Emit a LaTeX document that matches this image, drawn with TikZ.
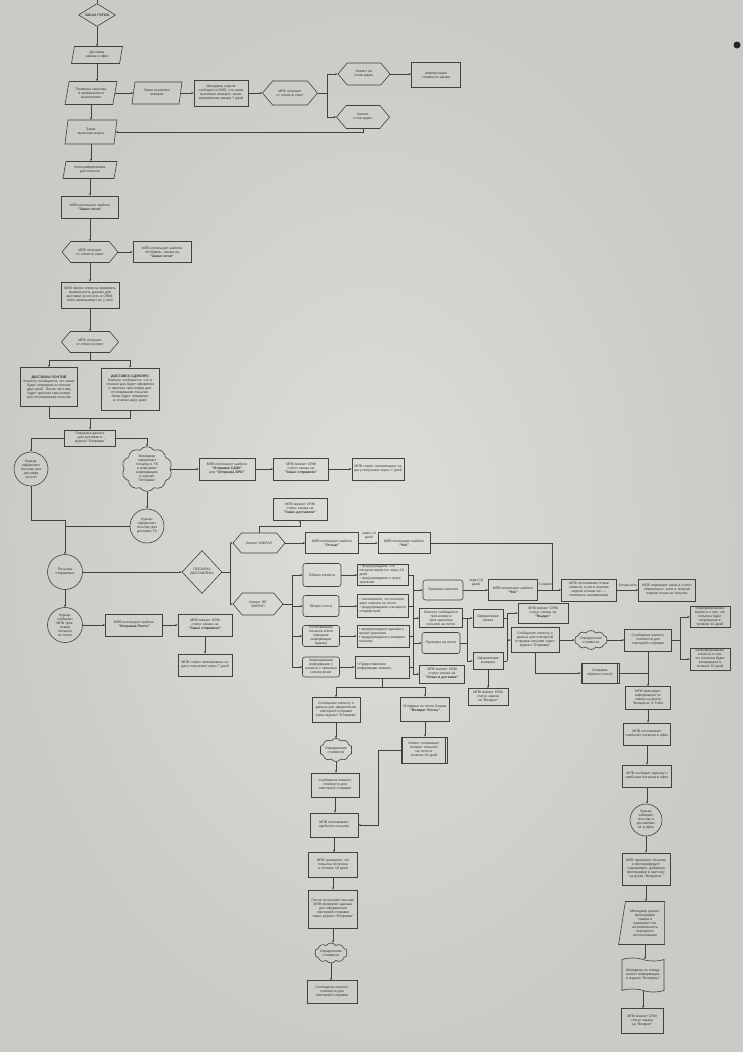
\documentclass[tikz,border=0pt]{standalone}
\usepackage{fontspec}
\setmainfont{Liberation Sans}
\usetikzlibrary{shapes.geometric,shapes.symbols,shapes.misc,arrows.meta}
\definecolor{bgc}{RGB}{213,213,209}
\definecolor{bgin}{RGB}{221,221,218}
\definecolor{bgout}{RGB}{202,202,198}
\definecolor{lc}{RGB}{65,65,65}
\definecolor{tc}{RGB}{50,50,50}
\newcommand\myfs{\fontsize{3.45}{4.0}\selectfont}
\newcommand\ppl[1]{\draw[ln] ([xshift=2pt]#1.north west) -- ([xshift=2pt]#1.south west); \draw[ln] ([xshift=-2pt]#1.north east) -- ([xshift=-2pt]#1.south east);}
\tikzset{
 nb/.style={draw=lc, line width=0.6pt, text=tc, font=\myfs, align=center, inner sep=0.5pt},
 sz/.code 2 args={\pgfmathsetmacro\mytw{#1-4}\edef\mytmp{\noexpand\tikzset{minimum width=#1pt,minimum height=#2pt,text width=\mytw pt}}\mytmp},
 psz/.code 2 args={\pgfmathsetmacro\mytw{#1-0.73*#2-3}\edef\mytmp{\noexpand\tikzset{minimum width=#1pt,minimum height=#2pt,text width=\mytw pt}}\mytmp},
 hsz/.code 2 args={\pgfmathsetmacro\mytw{#1-0.84*#2-3}\edef\mytmp{\noexpand\tikzset{minimum width=#1pt,minimum height=#2pt,text width=\mytw pt}}\mytmp},
 csz/.code={\pgfmathsetmacro\mytw{#1*0.7}\edef\mytmp{\noexpand\tikzset{minimum size=#1pt,text width=\mytw pt}}\mytmp},
 box/.style={nb, rectangle},
 rbox/.style={nb, rectangle, rounded corners=2.5pt},
 para/.style={nb, trapezium, trapezium left angle=70, trapezium right angle=110, trapezium stretches body},
 tz/.style={nb, trapezium, trapezium left angle=76, trapezium right angle=90, trapezium stretches body},
 hexa/.style={nb, signal, signal to=west and east, signal pointer angle=100},
 dia/.style={nb, diamond, aspect=1.6},
 circ/.style={nb, circle},
 cld/.style={nb, cloud, cloud puffs=10, cloud puff arc=110, cloud ignores aspect},
 tp/.style={nb, tape, tape bend top=out and in, tape bend bottom=out and in, tape bend height=3pt},
 lab/.style={text=tc, font=\myfs, align=center, inner sep=0pt},
 arr/.style={draw=lc, line width=0.6pt, -{Stealth[length=2.4pt,width=2pt]}},
 ln/.style={draw=lc, line width=0.6pt},
}
\newcommand\vto[2]{\draw[arr] (#1.south) -- (#1.south |- #2.north);}
\newcommand\hto[2]{\draw[arr] (#1.east) -- (#1.east -| #2.west);}
\begin{document}
\begin{tikzpicture}[x=1pt,y=-1pt]
\shade[inner color=bgin, outer color=bgout] (0,0) rectangle (743,1052);
\useasboundingbox (0,0) rectangle (743,1052);
\fill[black!85] (737,45) circle (3.5);

% ---------- top column ----------
\node[dia, minimum width=37pt, minimum height=23pt, text width=26pt] (n1) at (97,15) {\textbf{ЗАКАЗ ГОТОВ}};
\node[para, psz={51}{17}] (n2) at (97,55) {Доставка заказа в офис};
\node[para, psz={52}{23}] (n3) at (91,93) {Проверка качества и правильности выполнения};
\node[para, psz={50}{22}] (n4) at (157,93) {Заказ выполнен неверно};
\node[box, sz={54}{26}] (n5) at (221,93) {Менеджер отдела сообщает в ООО, что заказ выполнен неверно, сроки исправления заказа 7 дней};
\node[hexa, hsz={55}{24}] (n6) at (290,93) {МПВ получает\\ от клиента ответ};
\node[hexa, hsz={52}{22}] (n7) at (364,74) {Клиент не готов ждать};
\node[hexa, hsz={53}{23}] (n8) at (363,117) {Клиент готов ждать};
\node[box, sz={49}{25}] (n9) at (436,75) {Компенсация стоимости заказа};
\node[para, psz={52}{24}] (n10) at (91,132) {Заказ\\ выполнен верно};
\node[para, psz={54}{17}] (n11) at (90,170) {Фотографирование для клиента};
\node[box, sz={57}{22}] (n12) at (90,207) {МПВ использует шаблон\\ \textbf{"Заказ готов"}};
\node[hexa, hsz={56}{21}] (n13) at (90,252) {МПВ получает\\ от клиента ответ};
\node[box, sz={58}{21}] (n14) at (162,252) {МПВ использует шаблон «Отбивка», меняя на\\ \textbf{"Заказ готов"}};
\node[box, sz={58}{26}] (n15) at (90,295) {МПВ просит клиента проверить правильность данных для доставки (если есть в CRM), либо запрашивает их у него};
\node[hexa, hsz={57}{21}] (n16) at (90,342) {МПВ получает\\ от клиента ответ};
\node[box, sz={57}{39}] (n17) at (49,387) {\textbf{ДОСТАВКА ПОЧТОЙ}\\ Клиенту сообщается, что заказ будет отправлен в течение двух дней. После чего ему будет прислан трек-номер для отслеживания посылки};
\node[box, sz={58}{42}] (n18) at (130,389) {\textbf{ДОСТАВКА СДЭК/DPD}\\ Клиенту сообщается, что в течение дня будет оформлен и прислан трек-номер для отслеживания посылки. Заказ будет отправлен в течение двух дней};
\node[box, sz={51}{16}] (n19) at (90,438) {Передача данных для доставки в журнал "Отправки"};
\node[circ, csz=34] (n20) at (31,469) {Курьер оформляет посылку для доставки почтой};
\node[cld, minimum width=50pt, minimum height=38pt, text width=30pt] (n21) at (147,469) {Менеджер оформляет посылку в ТК и вписывает информацию в журнал "Отправки"};
\node[box, sz={56}{22}] (n22) at (227,469) {МПВ использует шаблон \textbf{"Отправка СДЭК"} или \textbf{"Отправка DPD"}};
\node[box, sz={55}{22}] (n23) at (301,469) {МПВ меняет CRM статус заказа на\\ \textbf{"Заказ отправлен"}};
\node[box, sz={52}{22}] (n24) at (378,469) {МПВ ставит напоминание на дату получения через 7 дней};
\node[circ, csz=34] (n25) at (147,526) {Курьер оформляет посылку для доставки ТК};
\node[circ, csz=35] (n26) at (65,572) {Посылка отправлена};
\node[dia, minimum width=40pt, minimum height=43pt, text width=24pt] (n27) at (202,572) {ПОСЫЛКА ДОСТАВЛЕНА};
\node[circ, csz=35] (n28) at (65,625) {Курьер сообщает МПВ трек-номер посылки по почте};
\node[box, sz={57}{22}] (n29) at (134,625) {МПВ использует шаблон\\ \textbf{"Отправка Почта"}};
\node[box, sz={54}{22}] (n30) at (205,625) {МПВ меняет CRM статус заказа на\\ \textbf{"Заказ отправлен"}};
\node[box, sz={54}{22}] (n31) at (205,665) {МПВ ставит напоминание на дату получения через 7 дней};
\node[box, sz={54}{22}] (n32) at (300,509) {МПВ меняет CRM статус заказа на\\ \textbf{"Заказ доставлен"}};
\node[hexa, hsz={52}{20}] (n33) at (259,543) {Клиент ЗАБРАЛ};
\node[hexa, hsz={50}{22}] (n34) at (258,604) {Клиент НЕ ЗАБРАЛ};
\node[box, sz={53}{21}] (n35) at (332,543) {МПВ использует шаблон\\ \textbf{"Отзыв"}};
\node[lab] (l1) at (369,536) {через 14\\дней};
\node[box, sz={52}{21}] (n36) at (404,543) {МПВ использует шаблон\\ \textbf{"Чек"}};

% ---------- centre ----------
\node[rbox, sz={38}{23}] (n37) at (322,575) {Обзвон клиента};
\node[rbox, sz={36}{21}] (n38) at (321,606) {Обзвон почты};
\node[rbox, sz={37}{21}] (n39) at (321,636) {Отслеживание посылки и/или передача информации курьеру};
\node[rbox, sz={37}{20}] (n40) at (321,667) {Запрашивание информации у клиента о причинах неполучения};
\node[box, sz={51}{21}, align=left] (r1) at (383,575) {• предупреждаем, что посылка вернется через 10 дней\\• предупреждаем о сроке хранения};
\node[box, sz={51}{23}, align=left] (r2) at (383,606) {• напоминаем, что посылка ждет клиента на почте\\• предупреждаем о возврате отправителю};
\node[box, sz={52}{22}, align=left] (r3) at (383,636) {• предупреждаем курьера о сроках хранения\\• предупреждаем о возврате посылки};
\node[box, sz={54}{22}, align=left] (r4) at (382,667) {• Предоставление информации клиенту};
\node[rbox, sz={40}{20}] (nA) at (443,590) {Проверка наличия};
\node[lab] (l2) at (476,583) {через 10\\дней};
\node[box, sz={49}{21}] (nCh) at (513,590) {МПВ использует шаблон\\ \textbf{"Чек"}};
\node[lab] (l3) at (546,585) {1 неделя};
\node[box, sz={55}{22}] (n42) at (589,590) {МПВ отслеживает отзыв клиента, если в течение недели отзыва нет~— повторное напоминание};
\node[lab] (l4) at (628,585) {Отзыв есть};
\node[box, sz={57}{22}] (n43) at (667,590) {МПВ переводит заказ в статус «Выполнен», если в течение недели отзыв не получен};
\node[box, sz={43}{19}] (nB) at (441,618) {Клиенту сообщается трек-номер и срок хранения посылки на почте};
\node[rbox, sz={38}{21}] (nC) at (441,643) {Проверка на почте};
\node[box, sz={45}{18}] (nD) at (442,674) {МПВ меняет CRM статус заказа на \textbf{"Отказ в доставке"}};
\node[box, sz={30}{18}] (nE) at (488,618) {Оформление заказа};
\node[box, sz={30}{17}] (nF) at (488,661) {Оформление возврата};
\node[box, sz={50}{20}] (nG) at (543,613) {МПВ меняет CRM статус заказа на\\ \textbf{"Выдан"}};
\node[box, sz={48}{25}] (nH) at (535,640) {Сообщение клиенту о данных для повторной отправки посылки через журнал "Отправки"};
\node[cld, minimum width=32pt, minimum height=19pt, text width=22pt] (nI) at (591,640) {Определение стоимости};
\node[box, sz={47}{22}] (nJ) at (648,640) {Сообщение клиенту стоимости для повторной отправки};
\node[box, sz={40}{21}] (nK) at (710,617) {Информирование клиента о том, что посылка будет отправлена в течение 10 дней};
\node[box, sz={40}{22}] (nL) at (710,659) {Информирование клиента о том, что посылка будет возвращена в течение 10 дней};
\node[box, sz={38}{20}, text width=30pt] (nM) at (600,673) {Отправка обратно почтой};
\ppl{nM}
\node[box, sz={40}{17}] (nN) at (488,697) {МПВ меняет CRM статус заказа на "Возврат"};

% ---------- right column ----------
\node[box, sz={45}{23}] (p1) at (648,698) {МПВ фиксирует информацию по заказу на доске "Возвраты" в Trello};
\node[box, sz={47}{22}] (p2) at (647,734) {МПВ отслеживает прибытие посылки в офис};
\node[box, sz={49}{22}] (p3) at (647,776) {МПВ сообщает курьеру о прибытии посылки в офис};
\node[circ, csz=32] (p4) at (646,820) {Курьер забирает посылку и доставляет её в офис};
\node[box, sz={48}{32}] (p5) at (646,869) {МПВ проверяет посылку и фотографирует содержимое, добавляя фотографии в карточку на доске "Возвраты"};
\node[tz, minimum width=46pt, minimum height=43pt, text width=31pt] (p6) at (645,923) {Менеджер делает фотографии товара и проверяет его на возможность повторного использования};
\node[tp, minimum width=42pt, minimum height=34pt, text width=36pt] (p7) at (643,975) {Менеджер по складу вносит информацию в журнал "Возвраты"};
\node[box, sz={42}{25}] (p8) at (642,1021) {МПВ меняет CRM статус заказа на "Возврат"};

% ---------- lower centre ----------
\node[box, sz={48}{25}] (s1) at (336,710) {Сообщение клиенту о данных для оформления повторной отправки через журнал "Отправки"};
\node[box, sz={49}{24}] (s2) at (425,709) {Отправка по почте бланка \textbf{"Возврат Почты"}};
\node[cld, minimum width=32pt, minimum height=23pt, text width=22pt] (s3) at (336,750) {Определение стоимости};
\node[box, sz={46}{26}, text width=36pt] (s4) at (424,750) {Клиент оплачивает возврат посылки на почте в течение 10 дней};
\ppl{s4}
\node[box, sz={48}{24}] (s5) at (335,785) {Сообщение клиенту стоимости для повторной отправки};
\node[box, sz={48}{24}] (s6) at (334,825) {МПВ отслеживает прибытие посылки};
\node[box, sz={49}{25}] (s7) at (333,865) {МПВ проверяет, что посылка получена в течение 10 дней};
\node[box, sz={49}{38}] (s8) at (333,909) {После получения посылки МПВ проверяет данные для оформления повторной отправки через журнал "Отправки"};
\node[cld, minimum width=32pt, minimum height=20pt, text width=22pt] (s9) at (331,953) {Определение стоимости};
\node[box, sz={50}{23}] (s10) at (332,992) {Сообщение клиенту стоимости для повторной отправки};

% ---------- connectors ----------
\coordinate (t0) at (97,0);
\draw[ln] (t0) -- (n1.north);
\vto{n1}{n2}
\vto{n2}{n3}
\vto{n3}{n10}
\hto{n3}{n4}
\hto{n4}{n5}
\hto{n5}{n6}
\coordinate (b6) at (327,93);
\draw[ln] (n6.east) -- (b6);
\draw[arr] (b6) |- (n7.west);
\draw[arr] (b6) |- (n8.west);
\hto{n7}{n9}
\draw[arr] (n8.south) |- (n10.east);
\vto{n10}{n11}
\vto{n11}{n12}
\vto{n12}{n13}
\hto{n13}{n14}
\vto{n13}{n15}
\vto{n15}{n16}
\coordinate (b16) at (90,360);
\draw[ln] (n16.south) -- (b16);
\draw[arr] (b16) -| (n17.north);
\draw[arr] (b16) -| (n18.north);
\coordinate (m17) at (90,418);
\draw[ln] (n17.south) |- (m17);
\draw[ln] (n18.south) |- (m17);
\draw[arr] (m17) -- (n19.north);
\draw[arr] (n19.west) -| (n20.north);
\draw[arr] (n19.east) -| (n21.north);
\hto{n21}{n22}
\hto{n22}{n23}
\hto{n23}{n24}
\vto{n21}{n25}
\coordinate (j1) at (65,520);
\draw[ln] (n20.south) |- (j1);
\draw[ln] (n25.west) -| (j1);
\draw[arr] (j1) -- (n26.north);
\hto{n26}{n27}
\vto{n26}{n28}
\hto{n28}{n29}
\hto{n29}{n30}
\vto{n30}{n31}
\coordinate (b27) at (230,572);
\draw[ln] (n27.east) -- (b27);
\draw[arr] (b27) |- (n33.west);
\draw[arr] (b27) |- (n34.west);
\draw[arr] (n33.north) -- ++(0,-6) -| (n32.south);
\hto{n33}{n35}
\hto{n35}{n36}
\coordinate (j36) at (552,543);
\draw[ln] (n36.east) -- (j36) -- (j36 |- n42.west);
\coordinate (b34) at (292,604);
\draw[ln] (n34.east) -- (b34);
\draw[ln] (b34 |- n37.west) -- (b34 |- n40.west);
\foreach \k in {n37,n38,n39,n40} {\draw[arr] (b34 |- \k.west) -- (\k.west);}
\hto{n37}{r1}
\hto{n38}{r2}
\hto{n39}{r3}
\hto{n40}{r4}
\coordinate (bt) at (413,575);
\coordinate (bb) at (413,674);
\draw[ln] (bt) -- (bb);
\foreach \k in {r1,r2,r3,r4} {\draw[ln] (\k.east) -- (\k.east -| bt);}
\foreach \k in {nA,nB,nC,nD} {\draw[arr] (\k.west -| bt) -- (\k.west);}
\hto{nA}{nCh}
\hto{nCh}{n42}
\hto{n42}{n43}
\coordinate (bc) at (467,643);
\hto{nB}{nE}
\draw[ln] (nC.east) -- (bc);
\draw[ln] (bc) -- (bc |- nE.west);
\draw[arr] (bc) |- (nF.west);
\coordinate (be) at (507,640);
\draw[ln] (nE.east) -- (nE.east -| be);
\draw[ln] (nF.east) -- (nF.east -| be);
\draw[ln] (be |- nG.west) -- (be |- nF.east);
\draw[arr] (be |- nG.west) -- (nG.west);
\draw[arr] (be) -- (nH.west);
\hto{nH}{nI}
\hto{nI}{nJ}
\coordinate (bj) at (680,640);
\draw[ln] (nJ.east) -- (bj);
\draw[arr] (bj) |- (nK.west);
\draw[arr] (bj) |- (nL.west);
\draw[arr] (nH.south) |- (nM.west);
\draw[ln] (nM.east) -- (nM.east -| nJ.south);
\vto{nJ}{p1}
\vto{nF}{nN}
\vto{p1}{p2}
\vto{p2}{p3}
\vto{p3}{p4}
\vto{p4}{p5}
\vto{p5}{p6}
\vto{p6}{p7}
\vto{p7}{p8}
\coordinate (b4) at (382,687);
\draw[ln] (r4.south) -- (b4);
\draw[arr] (b4) -| (s1.north);
\draw[arr] (b4) -| (s2.north);
\vto{s1}{s3}
\vto{s3}{s5}
\vto{s5}{s6}
\vto{s6}{s7}
\vto{s7}{s8}
\vto{s8}{s9}
\vto{s9}{s10}
\vto{s2}{s4}
\coordinate (b44) at (378,750);
\draw[ln] (s4.west) -- (b44);
\draw[arr] (b44) |- (s6.east);
\end{tikzpicture}
\end{document}
